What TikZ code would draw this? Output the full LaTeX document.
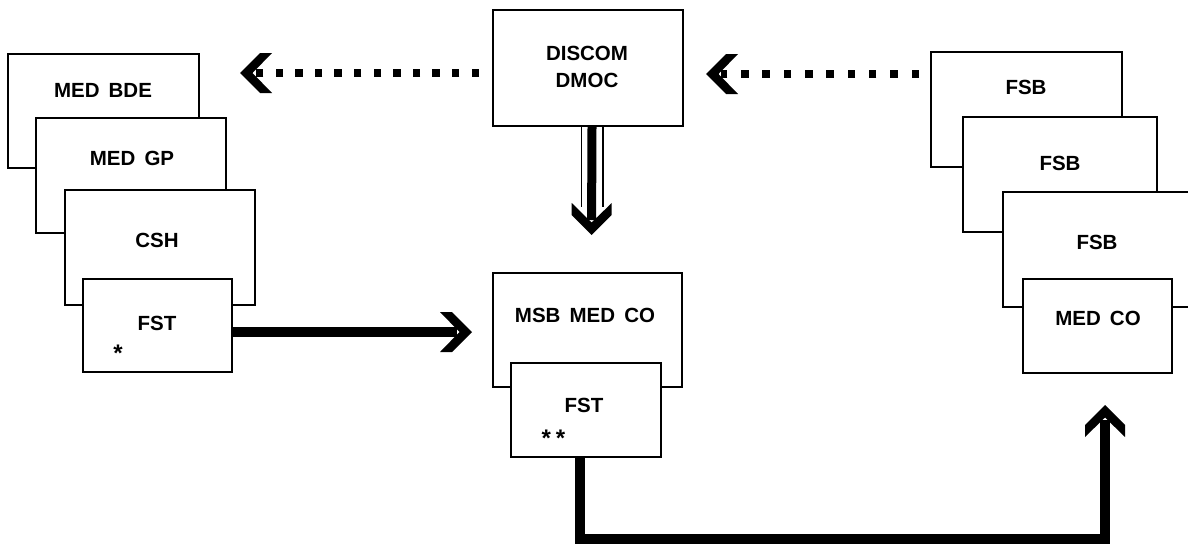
\documentclass[tikz,border=0pt]{standalone}
\usepackage{fontspec}
\setmainfont{Liberation Sans}[WordSpace=1.6]
\usetikzlibrary{arrows.meta,calc}
\pgfdeclarearrow{
  name=Chev,
  setup code={
    \pgfarrowssettipend{0pt}
    \pgfarrowssetlineend{-15pt}
    \pgfarrowssetvisualbackend{-32pt}
    \pgfarrowssetbackend{-32pt}
    \pgfarrowshullpoint{0pt}{0pt}
    \pgfarrowshullpoint{-32pt}{20pt}
    \pgfarrowshullpoint{-32pt}{-20pt}
  },
  drawing code={
    \pgfpathmoveto{\pgfqpoint{0pt}{0pt}}
    \pgfpathlineto{\pgfqpoint{-20pt}{20pt}}
    \pgfpathlineto{\pgfqpoint{-32pt}{20pt}}
    \pgfpathlineto{\pgfqpoint{-12.5pt}{0pt}}
    \pgfpathlineto{\pgfqpoint{-32pt}{-20pt}}
    \pgfpathlineto{\pgfqpoint{-20pt}{-20pt}}
    \pgfpathclose
    \pgfusepathqfill
  }
}
\tikzset{
  box/.style={draw, line width=2pt, fill=white, inner sep=0pt},
  lbl/.style={font=\bfseries\fontsize{20.5}{27}\selectfont, inner sep=0pt, text height=14.6pt, text depth=0pt},
  lbl2/.style={font=\bfseries\fontsize{20.5}{27}\selectfont, inner sep=0pt, align=center},
  star/.style={font=\bfseries\fontsize{24}{24}\selectfont, inner sep=0pt, text height=17pt, text depth=0pt},
  dotarrow/.style={line width=8pt, -{Chev}},
  thickarrow/.style={line width=10pt, line join=miter, -{Chev}},
}
\begin{document}
\begin{tikzpicture}[x=1pt,y=-1pt]
\useasboundingbox (0,0) rectangle (1188,544);
\clip (0,0) rectangle (1188,544);
% left stack
\node[box, minimum width=191pt, minimum height=114pt] (medbde) at (103.5,111) {};
\node[box, minimum width=190pt, minimum height=115pt] (medgp) at (131,175.5) {};
\node[box, minimum width=190pt, minimum height=115pt] (csh) at (160,247.5) {};
\node[box, minimum width=149pt, minimum height=93pt] (fstL) at (157.5,325.5) {};
\node[lbl] (tmedbde) at (103,90) {MED BDE};
\node[lbl] (tmedgp) at (132,158) {MED GP};
\node[lbl] (tcsh) at (157,240) {CSH};
\node[lbl] (tfstL) at (157,323) {FST};
\node[star] (sL) at (118,353) {*};
% centre
\node[box, minimum width=190pt, minimum height=116pt] (discom) at (588,68) {};
\node[lbl2] (tdiscom) at (587,66.5) {DISCOM\\DMOC};
\node[box, minimum width=189pt, minimum height=114pt] (msb) at (587.5,330) {};
\node[box, minimum width=150pt, minimum height=94pt] (fstC) at (586,410) {};
\node[lbl] (tmsb) at (585,315) {MSB MED CO};
\node[lbl] (tfstC) at (584,405) {FST};
\node[star] (sC) at (553.5,438) {*\hspace{5pt}*};
% right stack
\node[box, minimum width=191pt, minimum height=115pt] (fsb1) at (1026.5,109.5) {};
\node[box, minimum width=194pt, minimum height=115pt] (fsb2) at (1060,174.5) {};
\node[box, minimum width=191pt, minimum height=115pt] (fsb3) at (1098.5,249.5) {};
\node[box, minimum width=149pt, minimum height=94pt] (medco) at (1097.5,326) {};
\node[lbl] (tfsb1) at (1026,87) {FSB};
\node[lbl] (tfsb2) at (1060,163) {FSB};
\node[lbl] (tfsb3) at (1097,242) {FSB};
\node[lbl] (tmedco) at (1098,318) {MED CO};
% dotted arrows
\draw[dotarrow, dash pattern=on 7.5pt off 12.1pt] ($(discom.west)+(-13,5)$) -- ($(medbde.east)+(40,-38)$);
\draw[dotarrow, dash pattern=on 7.5pt off 13.8pt] ($(fsb1.west)+(-11,-35.5)$) -- ($(discom.east)+(22,6)$);
% double arrow down
\draw[line width=1.5pt, double=white, double distance=20pt] ($(discom.south)+(4,0)$) -- ($(discom.south)+(4,80)$);
\draw[line width=9pt, -{Chev}] ($(discom.south)+(4,0)$) -- ($(msb.north)+(4,-37)$);
% FST -> MSB
\draw[thickarrow] ($(fstL.east)+(0,6.5)$) -- ($(msb.west)+(-20,2)$);
% FST -> MED CO
\draw[thickarrow] ($(fstC.south)+(-6,0)$) |- ($(medco.south)+(7.5,165)$) -- ($(medco.south)+(7.5,31)$);
\end{tikzpicture}
\end{document}
